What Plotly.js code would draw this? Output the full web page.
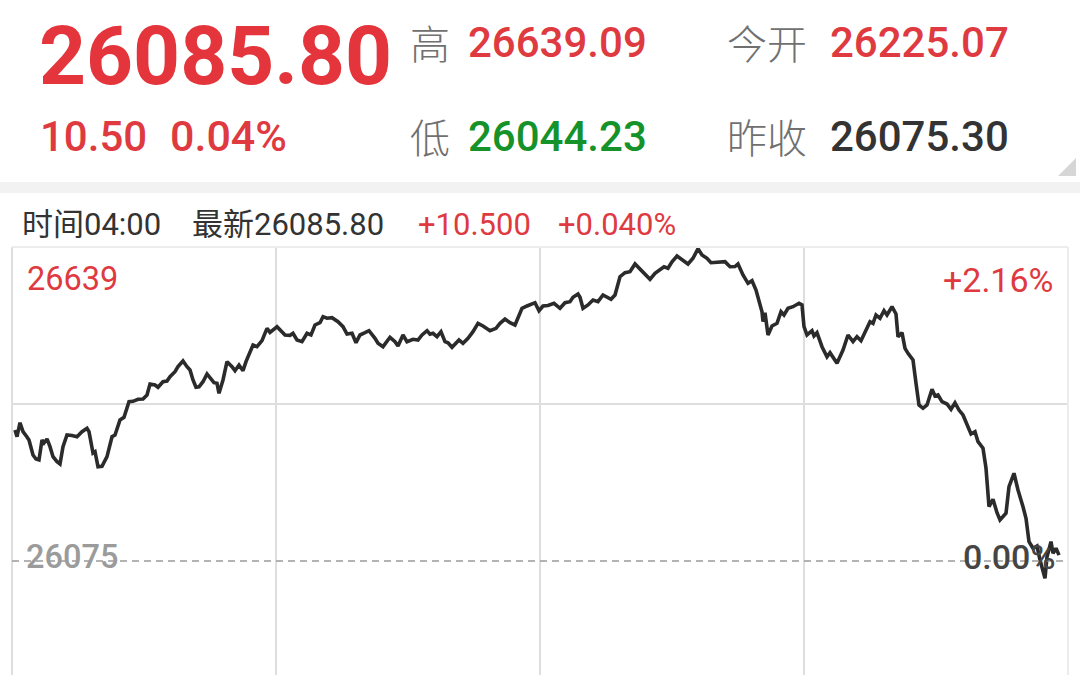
<!DOCTYPE html>
<html>
<head>
<meta charset="utf-8">
<script src="https://cdn.plot.ly/plotly-3.0.1.min.js"></script>
<style>
  html, body { margin: 0; padding: 0; background: #ffffff; }
  #wrap { width: 1080px; height: 675px; overflow: hidden; position: relative; }
  #chart { width: 1080px; height: 875px; }
</style>
</head>
<body>
<div id="wrap"><div id="chart"></div></div>
<script>
// ---- quote summary values ----
const lastPrice = 26085.80;
const highPrice = 26639.09;
const lowPrice = 26044.23;
const openPrice = 26225.07;
const prevClose = 26075.30;
const quoteTime = "04:00";

// ---- intraday series (session slot index, price) ----
const timeIdx = [3,5,8,11,15,17,21,24,27,30,
  32,35,38,41,45,48,51,55,60,65,
  70,75,77,81,83,86,90,95,100,103,
  108,112,117,121,126,131,135,138,143,146,
  151,155,158,163,166,171,175,178,181,184,
  187,191,195,200,202,205,207,211,215,220,
  223,227,231,234,238,241,245,250,255,258,
  263,265,273,278,281,285,290,295,299,303,
  308,311,315,320,326,331,335,340,344,348,
  353,357,363,366,371,378,383,386,391,395,
  401,406,410,415,418,421,425,429,433,436,
  440,443,447,451,456,461,466,471,478,484,
  488,493,498,503,510,515,523,527,531,536,
  542,548,553,558,561,566,568,571,576,581,
  586,591,596,599,603,608,613,618,623,630,
  638,643,648,652,656,660,665,670,676,681,
  686,690,695,699,705,713,718,723,726,731,
  736,740,744,747,750,751,753,756,760,765,
  769,772,776,781,787,790,792,795,800,802,
  805,810,815,818,821,825,831,836,841,845,
  849,853,858,861,864,868,872,875,880,884,
  886,890,893,896,901,904,907,911,915,920,
  923,926,930,935,939,943,947,951,955,959,
  963,966,971,974,977,981,985,988,994,997,
  1002,1006,1011,1014,1017,1021,1025,1028,1033,1035,
  1039,1041,1044,1047];

const price = [26310.5,26298.5,26323.6,26307.5,26298.0,26292.6,26265.6,26258.5,26256.7,26292.6,
  26287.2,26294.4,26280.5,26262.6,26253.6,26249.5,26280.5,26301.5,26300.8,26298.5,
  26307.5,26313.6,26307.5,26269.2,26271.6,26244.6,26245.3,26262.6,26298.5,26301.5,
  26328.5,26333.3,26361.3,26362.0,26365.6,26366.2,26373.4,26393.1,26391.3,26387.2,
  26397.2,26398.5,26406.2,26415.2,26424.2,26434.4,26424.2,26418.3,26400.3,26387.2,
  26388.0,26397.2,26411.1,26400.3,26395.4,26394.4,26376.4,26400.3,26433.2,26424.2,
  26417.0,26427.2,26417.0,26433.2,26448.2,26463.1,26460.1,26470.9,26493.1,26485.9,
  26493.1,26496.0,26481.1,26480.5,26484.1,26472.1,26469.1,26484.1,26481.1,26499.1,
  26503.2,26514.0,26511.1,26512.2,26505.0,26496.0,26482.9,26484.1,26467.3,26481.1,
  26485.2,26488.8,26475.2,26466.2,26460.1,26477.0,26469.1,26461.3,26481.1,26469.1,
  26473.4,26472.1,26481.1,26488.8,26482.4,26484.1,26478.0,26487.0,26469.1,26467.0,
  26459.0,26464.9,26472.1,26466.2,26475.2,26487.0,26502.1,26497.3,26488.8,26493.1,
  26502.1,26509.8,26503.2,26499.1,26529.0,26533.2,26539.1,26524.7,26533.2,26534.0,
  26538.0,26529.0,26539.1,26540.9,26548.8,26554.7,26548.8,26529.0,26535.0,26543.9,
  26540.9,26552.9,26548.8,26545.2,26552.9,26585.8,26593.0,26594.8,26608.6,26594.8,
  26581.1,26591.9,26597.8,26603.7,26600.9,26612.7,26622.9,26617.0,26608.6,26618.8,
  26636.0,26624.7,26618.8,26610.9,26611.5,26612.7,26603.7,26604.0,26608.6,26588.8,
  26573.9,26578.6,26561.9,26543.9,26522.9,26505.0,26521.1,26481.1,26497.3,26502.1,
  26522.9,26517.0,26529.0,26531.9,26538.0,26535.0,26496.0,26481.1,26488.8,26479.3,
  26485.2,26460.1,26442.1,26449.3,26442.1,26430.3,26454.2,26481.1,26469.1,26478.0,
  26470.9,26487.0,26505.0,26502.1,26517.0,26511.1,26524.7,26517.0,26531.9,26518.8,
  26478.0,26485.2,26457.2,26448.2,26436.2,26394.4,26355.4,26349.5,26355.4,26383.6,
  26371.6,26373.4,26361.3,26357.2,26347.7,26359.5,26346.4,26337.5,26319.5,26303.3,
  26307.5,26289.5,26277.7,26241.8,26172.8,26186.1,26162.0,26148.9,26161.0,26208.7,
  26232.8,26202.8,26172.8,26152.0,26110.0,26098.1,26102.2,26077.1,26044.2,26083.0,
  26110.0,26089.1,26098.1,26085.8];

const sessionSlots = 1056;
const sessionGrid = [264, 528, 792];

// ---- derived text ----
const change = lastPrice - prevClose;
const pct = change / prevClose * 100;
const span = highPrice - prevClose;
const spanPct = span / prevClose * 100;

// ---- geometry helpers (pixel -> paper) ----
const W = 1080, H = 875, ML = 12, MR = 12, MT = 247, MB = 0;
const PW = W - ML - MR, PH = H - MT - MB;
const px = x => (x - ML) / PW;
const py = y => 1 - (y - MT) / PH;

const RED = '#de3a3f', GREEN = '#15922a', DARK = '#333333', GRAY = '#707070';
const NUM = 'Roboto, "Noto Sans CJK SC", sans-serif';
const CJK = '"Noto Sans CJK SC", Roboto, sans-serif';

function ann(text, x, y, size, color, opts) {
  opts = opts || {};
  return {
    text: text, xref: 'paper', yref: 'paper', x: px(x), y: py(y),
    xanchor: opts.xanchor || 'left', yanchor: 'middle', showarrow: false,
    font: {family: opts.family || NUM, size: size, color: color, weight: opts.weight || 'normal'}
  };
}

const annotations = [
  ann(lastPrice.toFixed(2), 37, 56, 82, '#e3353b', {weight: 'bold'}),
  ann(change.toFixed(2), 38, 136, 42, RED, {weight: 500}),
  ann(pct.toFixed(2) + '%', 168, 136, 43, RED, {weight: 500}),
  ann('高', 408, 42, 40, GRAY, {family: CJK, weight: 300}),
  ann(highPrice.toFixed(2), 466, 42, 42, RED, {weight: 500}),
  ann('今开', 725, 42, 40, GRAY, {family: CJK, weight: 300}),
  ann(openPrice.toFixed(2), 828, 42, 42, RED, {weight: 500}),
  ann('低', 408, 136, 40, GRAY, {family: CJK, weight: 300}),
  ann(lowPrice.toFixed(2), 466, 136, 42, GREEN, {weight: 500}),
  ann('昨收', 725, 136, 40, GRAY, {family: CJK, weight: 300}),
  ann(prevClose.toFixed(2), 828, 136, 42, DARK, {weight: 500}),
  ann('时间' + quoteTime, 20, 224, 31, DARK),
  ann('最新' + lastPrice.toFixed(2), 190, 224, 31, DARK),
  ann('+' + change.toFixed(3), 416, 224, 31, RED),
  ann('+' + pct.toFixed(3) + '%', 556, 224, 31, RED),
  ann(Math.floor(highPrice).toString(), 25, 279, 32.5, RED),
  ann('+' + spanPct.toFixed(2) + '%', 1055, 280, 34, RED, {xanchor: 'right'}),
  ann(Math.floor(prevClose).toString(), 24, 557, 32.5, '#9b9b9b', {weight: 500}),
  ann('0.00%', 1057, 557, 34, '#454545', {xanchor: 'right', weight: 500})
];

const GRID = '#dedede';
const shapes = [
  // grey separator band under the quote header
  {type: 'rect', xref: 'paper', yref: 'paper', x0: px(0), x1: px(1080), y0: py(193), y1: py(182),
   fillcolor: '#f2f2f2', line: {width: 0}, layer: 'below'},
  // corner fold mark
  {type: 'path', xref: 'paper', yref: 'paper',
   path: `M ${px(1058)} ${py(176)} L ${px(1076)} ${py(158)} L ${px(1076)} ${py(176)} Z`,
   fillcolor: '#d6d6d6', line: {width: 0}},
  // plot frame
  {type: 'line', xref: 'paper', yref: 'paper', x0: 0, x1: 0, y0: 0, y1: 1, line: {color: GRID, width: 2}},
  {type: 'line', xref: 'paper', yref: 'paper', x0: 1, x1: 1, y0: 0, y1: 1, line: {color: '#ececec', width: 2}},
  {type: 'line', xref: 'paper', yref: 'paper', x0: 0, x1: 1, y0: 1, y1: 1, line: {color: '#ececec', width: 2}},
  // previous close reference
  {type: 'line', xref: 'paper', yref: 'y', x0: 0, x1: 1, y0: prevClose, y1: prevClose,
   line: {color: '#9a9a9a', width: 1.5, dash: '7px,5px'}}
];

const trace = {
  x: timeIdx, y: price, type: 'scatter', mode: 'lines',
  line: {color: '#2b2b2b', width: 3.6, shape: 'linear'},
  hoverinfo: 'skip'
};

const layout = {
  width: W, height: H,
  margin: {l: ML, r: MR, t: MT, b: MB, pad: 0},
  paper_bgcolor: '#ffffff', plot_bgcolor: '#ffffff',
  showlegend: false,
  xaxis: {range: [0, sessionSlots], tickvals: sessionGrid, showticklabels: false,
          showgrid: true, gridcolor: GRID, gridwidth: 2, zeroline: false, showline: false, ticks: '', fixedrange: true},
  yaxis: {range: [prevClose - span, prevClose + span],
          tickvals: [prevClose + span / 2, prevClose - span / 2], showticklabels: false,
          showgrid: true, gridcolor: GRID, gridwidth: 2, zeroline: false, showline: false, ticks: '', fixedrange: true},
  annotations: annotations,
  shapes: shapes
};

Plotly.newPlot('chart', [trace], layout, {staticPlot: true, displayModeBar: false});
</script>
</body>
</html>
